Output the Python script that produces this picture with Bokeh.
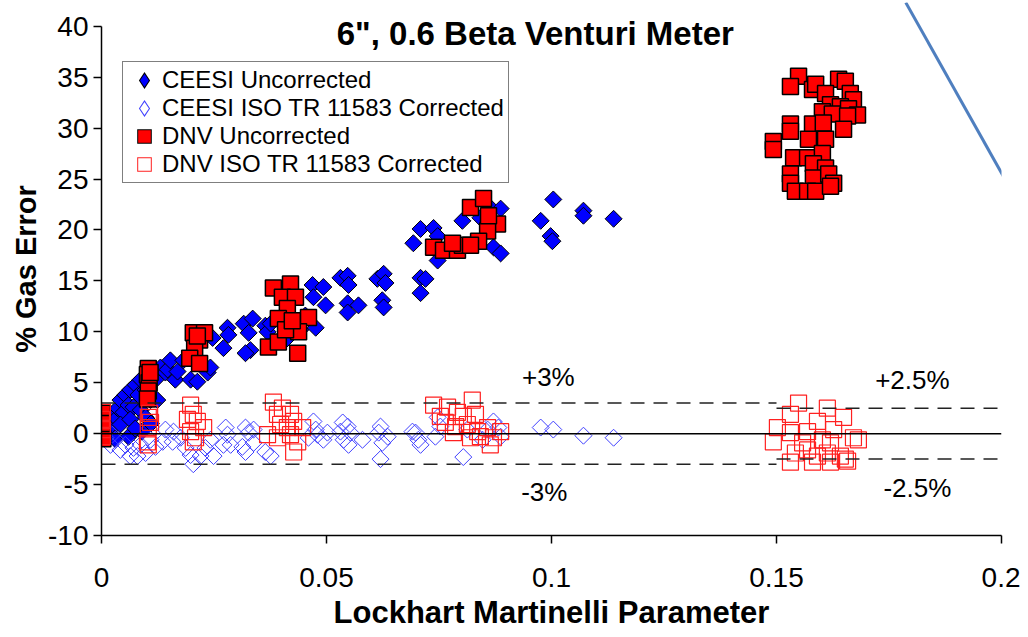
import numpy as np
from bokeh.plotting import figure
from bokeh.models import (ColumnDataSource, Legend, LegendItem, Label, FixedTicker,
                          Range1d, Span, Slope)
from bokeh.embed import file_html
from bokeh.resources import INLINE

# ---------------- data ----------------
ceesi_unc_x = [0.0009, 0.0016, 0.0024, 0.0031, 0.0036, 0.0042, 0.0049, 0.0053, 0.0060, 0.0064,
               0.0071, 0.0076, 0.0082, 0.0087, 0.0098, 0.0104, 0.0109, 0.0120, 0.0124, 0.0131,
               0.0142, 0.0147, 0.0153, 0.0164, 0.0169, 0.0182, 0.0198, 0.0213, 0.0236, 0.0242,
               0.0247, 0.0271, 0.0280, 0.0282, 0.0316, 0.0327, 0.0331, 0.0320, 0.0336, 0.0364,
               0.0369, 0.0376, 0.0409, 0.0442, 0.0453, 0.0469, 0.0493, 0.0471, 0.0498, 0.0476,
               0.0531, 0.0547, 0.0549, 0.0547, 0.0571, 0.0547, 0.0613, 0.0627, 0.0631, 0.0624,
               0.0627, 0.0709, 0.0720, 0.0709, 0.0693, 0.0709, 0.0738, 0.0747, 0.0747, 0.0802,
               0.0842, 0.0864, 0.0887, 0.0871, 0.0887, 0.1004, 0.0976, 0.0998, 0.1002, 0.1071,
               0.1071, 0.1138, 0.0020, 0.0042, 0.0064, 0.0087, 0.0098, 0.0030, 0.0060, 0.0090,
               0.0110, 0.0075]
ceesi_unc_y = [0.6, 1.4, 1.9, 1.4, 2.5, 3.3, 2.1, 3.8, 2.8, 4.3,
               2.6, 4.8, 3.8, 5.3, 4.3, 5.8, 3.3, 5.3, 3.3, 6.5,
               6.0, 6.3, 7.2, 5.3, 6.1, 7.2, 5.3, 5.1, 6.0, 6.5,
               9.4, 8.4, 10.4, 9.7, 10.8, 9.9, 8.2, 7.9, 11.3, 10.6,
               10.0, 10.8, 9.2, 10.2, 11.6, 14.6, 14.4, 13.4, 12.6, 10.4,
               15.3, 15.5, 14.6, 12.8, 12.6, 11.9, 15.2, 15.7, 14.8, 13.1,
               12.4, 15.3, 15.2, 13.8, 18.7, 20.1, 20.2, 19.4, 17.0, 20.9,
               21.2, 22.2, 22.1, 18.3, 17.7, 23.0, 20.9, 19.4, 18.9, 21.9,
               21.4, 21.1, 0.4, 0.9, 1.4, 2.3, 1.6, -0.5, -0.3, 0.2,
               1.0, 0.5]

ceesi_cor_x = [0.0009, 0.0020, 0.0031, 0.0042, 0.0053, 0.0024, 0.0087, 0.0109,
               0.0064, 0.0080, 0.0071, 0.0098, 0.0120, 0.0136, 0.0142, 0.0160, 0.0158, 0.0176,
               0.0187, 0.0198, 0.0204, 0.0220, 0.0231, 0.0242, 0.0249, 0.0276, 0.0280, 0.0271,
               0.0287, 0.0313, 0.0320, 0.0327, 0.0338, 0.0338, 0.0320, 0.0364, 0.0376,
               0.0471, 0.0476, 0.0480, 0.0493, 0.0460, 0.0502, 0.0536, 0.0547, 0.0531, 0.0553,
               0.0538, 0.0580, 0.0549, 0.0620, 0.0616, 0.0636, 0.0624, 0.0620, 0.0698, 0.0704,
               0.0709, 0.0691, 0.0747, 0.0753, 0.0742, 0.0804, 0.0813, 0.0858, 0.0871, 0.0882,
               0.0887, 0.0847, 0.0976, 0.1004, 0.1071, 0.1138]
ceesi_cor_y = [-0.4, -1.1, -0.6, -1.6, -1.1, -0.1, -1.1, -0.6,
               -2.2, -2.2, -1.4, -1.9, -1.3, -0.8, 0.4, 0.2, -0.8, -0.4,
               -1.4, -2.1, -3.0, -2.2, -1.4, -0.6, -2.2, 0.6, -0.1, -1.1,
               -1.1, -1.3, 0.6, 0.1, 0.4, -0.9, -1.8, -1.8, -2.2,
               1.2, 0.4, -0.1, -0.6, -0.4, 0.1, 1.1, 0.7, 0.2, 0.1,
               -0.6, -0.6, -1.1, 0.7, 0.1, -0.3, -0.9, -2.5, 0.1, -0.6,
               -1.1, 0.2, 1.6, 0.7, -0.3, -2.3, 0.4, 0.4, 1.2, 0.6,
               -0.3, -0.6, 0.6, 0.4, -0.2, -0.4]

dnv_unc_x = [0.0002, 0.0002, 0.0003, 0.0002,
             0.0104, 0.0102, 0.0106, 0.0104, 0.0102, 0.0108,
             0.0204, 0.0218, 0.0207, 0.0196, 0.0218, 0.0229, 0.0213,
             0.0382, 0.0420, 0.0402, 0.0431, 0.0413, 0.0393, 0.0460, 0.0438, 0.0371, 0.0393,
             0.0436, 0.0409, 0.0424,
             0.0820, 0.0849, 0.0880, 0.0858, 0.0738, 0.0760, 0.0791, 0.0802, 0.0838, 0.0820,
             0.0780, 0.0860,
             0.1549, 0.1531, 0.1580, 0.1587, 0.1638, 0.1653, 0.1609, 0.1664, 0.1671, 0.1620,
             0.1642, 0.1660, 0.1680, 0.1602, 0.1624, 0.1658, 0.1531, 0.1580, 0.1604, 0.1649,
             0.1493, 0.1531, 0.1571, 0.1609, 0.1493, 0.1538, 0.1569, 0.1602, 0.1582, 0.1609,
             0.1531, 0.1531, 0.1582, 0.1616, 0.1627, 0.1542, 0.1569, 0.1587, 0.1620]
dnv_unc_y = [2.0, 0.5, -0.5, 1.0,
             6.4, 5.8, 5.0, 4.2, 3.4, 6.0,
             9.9, 9.2, 8.4, 7.4, 6.9, 9.9, 9.6,
             14.3, 14.7, 13.4, 13.4, 12.3, 11.3, 11.4, 10.0, 8.5, 9.0,
             7.9, 10.2, 11.1,
             22.2, 23.1, 20.6, 19.9, 18.3, 18.0, 18.0, 18.5, 18.9, 18.5,
             18.7, 21.4,
             35.1, 34.1, 33.8, 34.3, 34.8, 34.6, 33.4, 33.4, 32.8, 32.3,
             32.1, 31.9, 31.3, 31.6, 31.4, 31.2, 30.4, 30.4, 30.5, 29.9,
             28.7, 29.7, 28.9, 28.9, 27.9, 27.1, 27.1, 27.5, 26.5, 26.1,
             25.5, 24.6, 25.1, 25.5, 24.6, 23.8, 23.8, 23.8, 24.3]

dnv_cor_x = [0.0002, 0.0000, 0.0002, 0.0002,
             0.0104, 0.0109, 0.0104, 0.0102, 0.0104, 0.0107,
             0.0198, 0.0204, 0.0191, 0.0213, 0.0227, 0.0198, 0.0209, 0.0204,
             0.0382, 0.0402, 0.0391, 0.0420, 0.0427, 0.0398, 0.0413, 0.0369, 0.0391, 0.0420,
             0.0436, 0.0427, 0.0447,
             0.0738, 0.0769, 0.0824, 0.0753, 0.0791, 0.0804, 0.0831, 0.0764, 0.0787, 0.0813,
             0.0782, 0.0836, 0.0858, 0.0842, 0.0871, 0.0864, 0.0887, 0.0820,
             0.1549, 0.1531, 0.1613, 0.1649, 0.1502, 0.1493, 0.1531, 0.1569, 0.1591, 0.1602,
             0.1627, 0.1671, 0.1682, 0.1542, 0.1569, 0.1591, 0.1613, 0.1642, 0.1653, 0.1531,
             0.1580, 0.1620, 0.1658, 0.1558, 0.1620]
dnv_cor_y = [2.1, 1.4, 0.4, -0.3,
             1.6, 1.1, 0.6, -0.8, -1.1, 2.0,
             2.8, 1.9, 1.4, 1.2, 0.6, 0.2, -0.4, -0.8,
             3.1, 2.5, 1.9, 1.9, 1.2, 0.9, 0.6, -0.1, -0.4, -0.1,
             -0.8, -1.8, 0.6,
             2.8, 2.6, 3.3, 1.7, 2.1, 1.7, 1.9, 1.1, 0.7, 0.9,
             0.1, 0.2, 0.6, -0.3, -0.4, -1.1, 0.2, -0.4,
             3.0, 1.9, 2.5, 1.6, 0.6, -0.8, 0.1, 0.2, 1.2, -0.6,
             0.4, -0.4, -0.6, -1.9, -1.6, -2.2, -1.9, -2.2, -2.5, -2.8,
             -2.8, -2.8, -2.7, -0.9, -0.9]

x_ticks = [0, 0.05, 0.1, 0.15, 0.2]
x_tick_labels = ["0", "0.05", "0.1", "0.15", "0.2"]
y_ticks = [-10, -5, 0, 5, 10, 15, 20, 25, 30, 35, 40]
y_tick_labels = ["-10", "-5", "0", "5", "10", "15", "20", "25", "30", "35", "40"]

series_names = ["CEESI Uncorrected", "CEESI ISO TR 11583 Corrected",
                "DNV Uncorrected", "DNV ISO TR 11583 Corrected"]

# limit lines: +/-3 % up to 0.15, +/-2.5 % beyond
limit_x0 = [0.0, 0.0, 0.15, 0.15]
limit_x1 = [0.15, 0.15, 0.2, 0.2]
limit_y = [3.0, -3.0, 2.5, -2.5]
limit_texts = ["+3%", "-3%", "+2.5%", "-2.5%"]

FONT = "Liberation Sans"
Y_TOP = 42.34   # head room above 40 so the title can sit inside the frame

BLUE, BLUE_OPEN, RED, RED_OPEN = "#0000FF", "#4040FF", "#FF0000", "#FF2020"

p = figure(width=1020, height=632, output_backend="svg", toolbar_location=None,
           x_range=Range1d(0, 0.2), y_range=Range1d(-10, Y_TOP),
           min_border_left=101, min_border_right=19, min_border_top=2,
           min_border_bottom=96)
p.outline_line_color = None
p.xgrid.visible = False
p.ygrid.visible = False
p.background_fill_color = "white"
p.border_fill_color = "white"

# axes
p.xaxis.ticker = FixedTicker(ticks=x_ticks)
p.xaxis.major_label_overrides = {t: l for t, l in zip(x_ticks, x_tick_labels)}
p.yaxis.ticker = FixedTicker(ticks=y_ticks)
p.yaxis.major_label_overrides = {t: l for t, l in zip(y_ticks, y_tick_labels)}
p.yaxis.bounds = (-10, 40)
for ax in (p.xaxis[0], p.yaxis[0]):
    ax.axis_line_color = "black"
    ax.axis_line_width = 1.5
    ax.major_tick_line_color = "black"
    ax.major_tick_line_width = 1.5
    ax.major_tick_out = 8
    ax.major_tick_in = 0
    ax.minor_tick_line_color = None
    ax.major_label_text_font = FONT
    ax.major_label_text_font_size = "28px"
    ax.major_label_text_color = "black"
    ax.axis_label_text_font = FONT
    ax.axis_label_text_font_style = "bold"
    ax.axis_label_text_color = "black"
p.xaxis.axis_label = "Lockhart Martinelli Parameter"
p.yaxis.axis_label = "% Gas Error"
p.xaxis.axis_label_text_font_size = "31px"
p.yaxis.axis_label_text_font_size = "29px"
p.xaxis.major_label_standoff = 24
p.xaxis.axis_label_standoff = 5
p.yaxis.major_label_standoff = 5
p.yaxis.axis_label_standoff = 3

src_cu = ColumnDataSource(dict(x=ceesi_unc_x, y=ceesi_unc_y))
src_cc = ColumnDataSource(dict(x=ceesi_cor_x, y=ceesi_cor_y))
src_du = ColumnDataSource(dict(x=dnv_unc_x, y=dnv_unc_y))
src_dc = ColumnDataSource(dict(x=dnv_cor_x, y=dnv_cor_y))

r_cu = p.scatter("x", "y", source=src_cu, marker="square", angle=np.pi / 4, size=12,
                 fill_color=BLUE, line_color="black", line_width=1)
r_cc = p.scatter("x", "y", source=src_cc, marker="square", angle=np.pi / 4, size=12,
                 fill_alpha=0, line_color=BLUE_OPEN, line_width=1)
r_du = p.scatter("x", "y", source=src_du, marker="square", size=16,
                 fill_color=RED, line_color="black", line_width=1.5)
r_dc = p.scatter("x", "y", source=src_dc, marker="square", size=16,
                 fill_alpha=0, line_color=RED_OPEN, line_width=1.2)

# reference lines
p.add_layout(Span(location=0, dimension="width", line_color="black", line_width=1.5))
lim_src = ColumnDataSource(dict(x0=limit_x0, x1=limit_x1, y=limit_y))
p.segment(x0="x0", y0="y", x1="x1", y1="y", source=lim_src, line_color="#222222",
          line_width=1.5, line_dash="14 9")

label_pos = [(0.0993, 5.6), (0.0984, -5.7), (0.1802, 5.3), (0.1813, -5.3)]
for txt, (lx, ly) in zip(limit_texts, label_pos):
    p.add_layout(Label(x=lx, y=ly, text=txt, text_align="center", text_baseline="middle",
                       text_font=FONT, text_font_size="26px", text_color="black"))

p.add_layout(Label(x=0.0964, y=39.3, text='6", 0.6 Beta Venturi Meter', text_align="center",
                   text_baseline="middle", text_font=FONT, text_font_size="33px",
                   text_font_style="bold", text_color="black"))

# decorative slide stroke crossing the top-right corner (background of the slide)
p.add_layout(Slope(gradient=-787.0, y_intercept=183.0, line_color="#4F7FBF",
                   line_width=3, level="underlay"))

# legend swatches: two stacked proxy glyphs each (outer edge + inner body),
# so the swatches are as large as the reference ones
proxy = ColumnDataSource(dict(x=[np.nan], y=[np.nan]))


def swatch(marker, outer_color, outer_w, inner_fill, inner_line, inner_w, filled):
    a = p.scatter("x", "y", source=proxy, marker=marker, size=10,
                  fill_color=inner_fill if filled else None,
                  fill_alpha=1 if filled else 0,
                  line_color=outer_color, line_width=outer_w, line_join="miter")
    b = p.scatter("x", "y", source=proxy, marker=marker, size=10,
                  fill_color=inner_fill, line_color=inner_line, line_width=inner_w,
                  line_join="miter")
    return [a, b]


sw_cu = swatch("diamond", "black", 4, BLUE, BLUE, 2, True)
sw_cc = swatch("diamond", BLUE_OPEN, 4, "white", "white", 2, False)
sw_du = swatch("square", "black", 5, RED, RED, 3, True)
sw_dc = swatch("square", RED_OPEN, 5, "white", "white", 3, False)

legend = Legend(items=[LegendItem(label=series_names[0], renderers=sw_cu),
                       LegendItem(label=series_names[1], renderers=sw_cc),
                       LegendItem(label=series_names[2], renderers=sw_du),
                       LegendItem(label=series_names[3], renderers=sw_dc)],
                location=(21, 352), orientation="vertical")
legend.label_text_font = FONT
legend.label_text_font_size = "24px"
legend.label_text_color = "black"
legend.glyph_height = 24
legend.glyph_width = 34
legend.label_height = 20
legend.spacing = 0
legend.padding = 4
legend.margin = 0
legend.label_standoff = 1
legend.border_line_color = "black"
legend.border_line_width = 1
legend.background_fill_color = "white"
legend.background_fill_alpha = 1
p.add_layout(legend, "center")

open("out.html", "w").write(file_html(p, INLINE))
